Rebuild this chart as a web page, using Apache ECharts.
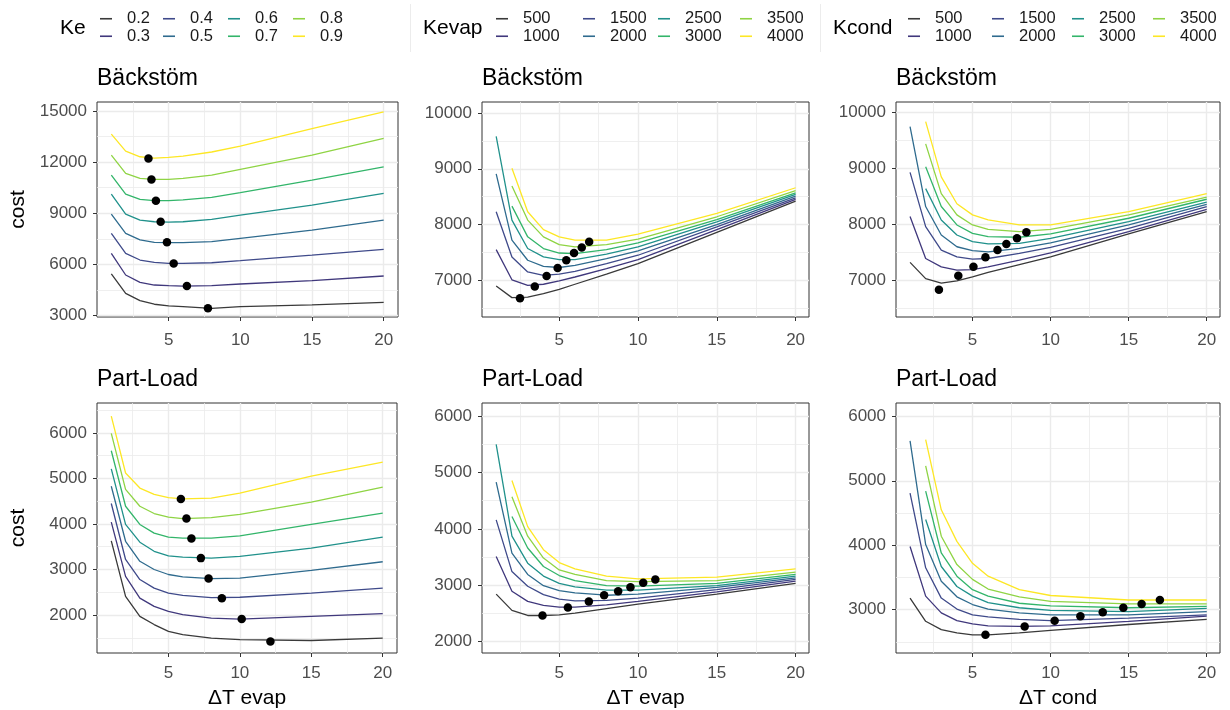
<!DOCTYPE html>
<html><head><meta charset="utf-8">
<script src="https://cdn.jsdelivr.net/npm/echarts@6/dist/echarts.min.js"></script>
<style>html,body{margin:0;padding:0;background:#fff}#c{width:1230px;height:710px}</style>
</head><body><div id="c"></div>
<script>
// ---------- data ----------
const xs = [1, 2, 3, 4, 5, 6, 8, 10, 15, 20];
const keLevels = ['0.2', '0.3', '0.4', '0.5', '0.6', '0.7', '0.8', '0.9'];
const kLevels = ['500', '1000', '1500', '2000', '2500', '3000', '3500', '4000'];
const xTicks = [5, 10, 15, 20];
const xMinor = [2.5, 7.5, 12.5, 17.5];

// Bäckstöm, ΔT evap, by Ke
const bsEvapKe = [
  [5430, 4290, 3860, 3650, 3550, 3510, 3410, 3510, 3610, 3760],
  [6640, 5370, 4940, 4780, 4740, 4720, 4740, 4840, 5040, 5310],
  [7820, 6640, 6250, 6110, 6050, 6050, 6090, 6210, 6540, 6880],
  [8950, 7820, 7430, 7290, 7270, 7270, 7330, 7520, 8010, 8600],
  [10130, 8950, 8600, 8500, 8480, 8500, 8640, 8890, 9480, 10170],
  [11240, 10130, 9810, 9740, 9740, 9780, 9930, 10210, 10950, 11730],
  [12420, 11340, 11050, 10990, 10990, 11050, 11240, 11580, 12420, 13400],
  [13650, 12650, 12320, 12240, 12280, 12360, 12600, 12950, 13980, 14960]
];
const bsEvapKeMinX = [7.74, 6.27, 5.35, 4.88, 4.44, 4.11, 3.8, 3.59];
const bsEvapKeMinY = [3410, 4720, 6050, 7290, 8500, 9740, 10990, 12220];

// Bäckstöm, ΔT evap, by Kevap
const bsEvapKevap = [
  [6900, 6690, 6700, 6760, 6840, 6930, 7110, 7300, 7860, 8420],
  [7550, 7010, 6910, 6930, 6990, 7060, 7210, 7370, 7910, 8450],
  [8230, 7420, 7150, 7090, 7110, 7160, 7300, 7450, 7960, 8480],
  [8910, 7720, 7360, 7250, 7230, 7270, 7390, 7530, 8000, 8510],
  [9580, 8080, 7570, 7420, 7370, 7370, 7470, 7600, 8050, 8540],
  [null, 8330, 7780, 7570, 7490, 7480, 7550, 7670, 8090, 8570],
  [null, 8690, 8080, 7780, 7640, 7600, 7640, 7740, 8140, 8610],
  [null, 9010, 8230, 7910, 7780, 7720, 7720, 7830, 8200, 8660]
];
const bsEvapKevapMinX = [2.51, 3.45, 4.2, 4.9, 5.45, 5.94, 6.43, 6.9];
const bsEvapKevapMinY = [6680, 6890, 7080, 7220, 7360, 7490, 7590, 7690];

// Bäckstöm, ΔT cond, by Kcond
const bsCondKcond = [
  [7320, 7030, 6950, 6990, 7060, 7140, 7280, 7420, 7830, 8230],
  [8140, 7390, 7240, 7180, 7190, 7240, 7360, 7490, 7870, 8270],
  [8930, 7960, 7540, 7420, 7380, 7390, 7480, 7590, 7930, 8320],
  [9750, 8320, 7810, 7600, 7530, 7510, 7570, 7670, 7990, 8360],
  [null, 8640, 8080, 7810, 7690, 7650, 7660, 7750, 8050, 8400],
  [null, 9030, 8320, 7990, 7840, 7780, 7770, 7830, 8110, 8450],
  [null, 9440, 8550, 8170, 7990, 7910, 7870, 7910, 8170, 8490],
  [null, 9840, 8850, 8370, 8170, 8080, 7990, 7990, 8230, 8550]
];
const bsCondKcondMinX = [2.85, 4.09, 5.06, 5.83, 6.6, 7.17, 7.85, 8.45];
const bsCondKcondMinY = [6830, 7080, 7240, 7410, 7540, 7650, 7750, 7860];

// Part-Load, ΔT evap, by Ke
const plEvapKe = [
  [3630, 2410, 1970, 1790, 1640, 1570, 1490, 1460, 1440, 1490],
  [4040, 2850, 2370, 2190, 2080, 2010, 1930, 1910, 1970, 2030],
  [4450, 3220, 2780, 2590, 2480, 2430, 2380, 2390, 2480, 2590],
  [4830, 3620, 3180, 3000, 2890, 2840, 2800, 2810, 2980, 3170],
  [5210, 3990, 3600, 3400, 3300, 3270, 3250, 3290, 3470, 3710],
  [5610, 4390, 3990, 3800, 3710, 3690, 3690, 3740, 3990, 4240],
  [5990, 4760, 4390, 4230, 4150, 4120, 4140, 4210, 4480, 4810],
  [6370, 5120, 4790, 4650, 4580, 4550, 4570, 4680, 5050, 5360]
];
const plEvapKeMinX = [12.14, 10.13, 8.74, 7.81, 7.27, 6.61, 6.26, 5.87];
const plEvapKeMinY = [1420, 1910, 2370, 2800, 3250, 3680, 4120, 4550];

// Part-Load, ΔT evap, by Kevap
const plEvapKevap = [
  [2840, 2550, 2460, 2460, 2470, 2500, 2580, 2660, 2840, 3030],
  [3510, 2890, 2710, 2640, 2610, 2610, 2650, 2710, 2880, 3070],
  [4160, 3240, 2980, 2830, 2750, 2720, 2730, 2770, 2920, 3100],
  [4830, 3570, 3190, 2990, 2900, 2860, 2820, 2840, 2960, 3130],
  [5500, 3870, 3390, 3160, 3030, 2970, 2910, 2910, 2990, 3160],
  [null, 4220, 3660, 3330, 3170, 3080, 2990, 2980, 3030, 3190],
  [null, 4570, 3870, 3480, 3270, 3190, 3080, 3060, 3080, 3230],
  [null, 4860, 4040, 3630, 3400, 3290, 3160, 3110, 3140, 3290]
];
const plEvapKevapMinX = [3.94, 5.55, 6.88, 7.85, 8.74, 9.52, 10.33, 11.1];
const plEvapKevapMinY = [2460, 2600, 2710, 2820, 2890, 2960, 3040, 3100];

// Part-Load, ΔT cond, by Kcond
const plCondKcond = [
  [3180, 2820, 2690, 2640, 2610, 2610, 2640, 2680, 2770, 2850],
  [3980, 3210, 2950, 2830, 2780, 2750, 2740, 2750, 2820, 2900],
  [4810, 3650, 3180, 3010, 2920, 2890, 2850, 2830, 2870, 2920],
  [5620, 4010, 3440, 3200, 3080, 3010, 2950, 2920, 2920, 2970],
  [null, 4400, 3670, 3360, 3210, 3110, 3030, 2990, 2970, 3020],
  [null, 4840, 3880, 3520, 3310, 3210, 3100, 3060, 3030, 3050],
  [null, 5230, 4140, 3700, 3470, 3320, 3200, 3130, 3090, 3090],
  [null, 5640, 4550, 4060, 3720, 3520, 3310, 3220, 3150, 3150]
];
const plCondKcondMinX = [5.83, 8.34, 10.26, 11.91, 13.34, 14.66, 15.83, 17.0];
const plCondKcondMinY = [2610, 2740, 2830, 2900, 2960, 3030, 3090, 3150];

// y tick labels / minor grid values
const yTicksBsKe = [3000, 6000, 9000, 12000, 15000];
const yMinorBsKe = [4500, 7500, 10500, 13500];
const yTicksBs = [7000, 8000, 9000, 10000];
const yMinorBs = [6500, 7500, 8500, 9500];
const yTicksPlKe = [2000, 3000, 4000, 5000, 6000];
const yMinorPlKe = [1500, 2500, 3500, 4500, 5500, 6500];
const yTicksPlEvap = [2000, 3000, 4000, 5000, 6000];
const yMinorPlEvap = [2500, 3500, 4500, 5500];
const yTicksPlCond = [3000, 4000, 5000, 6000];
const yMinorPlCond = [2500, 3500, 4500, 5500];

// ---------- styling / layout ----------
const palette = ['#3a3a3a', '#40387c', '#3f4a8a', '#2f6b8e', '#20918b', '#33b56a', '#8fd444', '#fde725'];
const FONT = '"Liberation Sans", Arial, sans-serif';

const panels = [
  {title: 'Bäckstöm', levels: keLevels, lines: bsEvapKe, mx: bsEvapKeMinX, my: bsEvapKeMinY, yt: yTicksBsKe, ym: yMinorBsKe,
   box: [97, 102, 301, 215], xr: [0, 21], yr: [2900, 15540], yName: 'cost', xName: '', lm: 15},
  {title: 'Bäckstöm', levels: kLevels, lines: bsEvapKevap, mx: bsEvapKevapMinX, my: bsEvapKevapMinY, yt: yTicksBs, ym: yMinorBs,
   box: [482, 102, 327, 215], xr: [0.1, 20.85], yr: [6343, 10197], yName: '', xName: '', lm: 15},
  {title: 'Bäckstöm', levels: kLevels, lines: bsCondKcond, mx: bsCondKcondMinX, my: bsCondKcondMinY, yt: yTicksBs, ym: yMinorBs,
   box: [896, 102, 324, 215], xr: [0.1, 20.85], yr: [6343, 10190], yName: '', xName: '', lm: 15},
  {title: 'Part-Load', levels: keLevels, lines: plEvapKe, mx: plEvapKeMinX, my: plEvapKeMinY, yt: yTicksPlKe, ym: yMinorPlKe,
   box: [97, 403, 300, 250], xr: [0, 21], yr: [1165, 6659], yName: 'cost', xName: 'ΔT evap', lm: 12},
  {title: 'Part-Load', levels: kLevels, lines: plEvapKevap, mx: plEvapKevapMinX, my: plEvapKevapMinY, yt: yTicksPlEvap, ym: yMinorPlEvap,
   box: [482, 403, 327, 250], xr: [0.1, 20.85], yr: [1793, 6237], yName: '', xName: 'ΔT evap', lm: 12},
  {title: 'Part-Load', levels: kLevels, lines: plCondKcond, mx: plCondKcondMinX, my: plCondKcondMinY, yt: yTicksPlCond, ym: yMinorPlCond,
   box: [896, 403, 324, 250], xr: [0.1, 20.85], yr: [2328, 6207], yName: '', xName: 'ΔT cond', lm: 12}
];

const grid = [], xAxis = [], yAxis = [], series = [], title = [];
panels.forEach((p, pi) => {
  grid.push({left: p.box[0], top: p.box[1], width: p.box[2], height: p.box[3], show: true,
    borderColor: '#333', borderWidth: 1, backgroundColor: '#fff', containLabel: false});
  title.push({text: p.title, left: p.box[0], top: p.box[1] - 35, padding: 0,
    textStyle: {fontSize: 23, fontWeight: 'normal', color: '#000', fontFamily: FONT}});
  xAxis.push({gridIndex: pi, type: 'value', min: p.xr[0], max: p.xr[1],
    axisLine: {show: false}, splitLine: {show: false},
    axisTick: {show: true, customValues: xTicks, length: 4, lineStyle: {color: '#333'}},
    axisLabel: {customValues: xTicks, color: '#4d4d4d', fontSize: 17, fontFamily: FONT, margin: p.lm},
    name: p.xName, nameLocation: 'middle', nameGap: 35,
    nameTextStyle: {fontSize: 21, color: '#000', fontFamily: FONT}});
  yAxis.push({gridIndex: pi, type: 'value', min: p.yr[0], max: p.yr[1],
    axisLine: {show: false}, splitLine: {show: false},
    axisTick: {show: true, customValues: p.yt, length: 4, lineStyle: {color: '#333'}},
    axisLabel: {customValues: p.yt, color: '#4d4d4d', fontSize: 17, fontFamily: FONT, margin: 10,
      formatter: v => String(v)},
    name: p.yName, nameLocation: 'middle', nameGap: 68, nameRotate: 90,
    nameTextStyle: {fontSize: 21, color: '#000', fontFamily: FONT}});
  // background grid lines
  const ml = [];
  xMinor.forEach(v => ml.push({xAxis: v, lineStyle: {width: 0.8}}));
  xTicks.forEach(v => ml.push({xAxis: v, lineStyle: {width: 1.4}}));
  p.ym.forEach(v => ml.push({yAxis: v, lineStyle: {width: 0.8}}));
  p.yt.forEach(v => ml.push({yAxis: v, lineStyle: {width: 1.4}}));
  series.push({type: 'line', xAxisIndex: pi, yAxisIndex: pi, data: [], z: 1, silent: true,
    markLine: {silent: true, z: 1, symbol: ['none', 'none'], label: {show: false}, animation: false,
      lineStyle: {color: '#ebebeb', type: 'solid'}, emphasis: {disabled: true}, data: ml}});
  p.lines.forEach((vals, i) => {
    const data = [];
    xs.forEach((x, k) => { if (vals[k] != null) data.push([x, vals[k]]); });
    series.push({type: 'line', name: p.levels[i], xAxisIndex: pi, yAxisIndex: pi, data,
      showSymbol: false, symbol: 'none', z: 3, silent: true,
      lineStyle: {width: 1.3, color: palette[i]}, itemStyle: {color: palette[i]}});
  });
  series.push({type: 'scatter', xAxisIndex: pi, yAxisIndex: pi, z: 6, silent: true,
    data: p.mx.map((x, k) => [x, p.my[k]]), symbolSize: 8.5, itemStyle: {color: '#000', opacity: 1}});
});

// legends: 3 groups x 4 columns of 2 rows
const legendGroups = [
  {levels: keLevels, keys: [100, 163, 228, 293]},
  {levels: kLevels, keys: [496, 583, 658, 740]},
  {levels: kLevels, keys: [908, 992, 1072, 1153]}
];
const legend = [];
legendGroups.forEach(g => {
  g.keys.forEach((kx, c) => {
    legend.push({data: [g.levels[2 * c], g.levels[2 * c + 1]], orient: 'vertical', left: kx, top: 10,
      padding: 0, itemGap: 0, itemWidth: 12, itemHeight: 1.6, icon: 'rect', selectedMode: false,
      textStyle: {fontSize: 16.5, lineHeight: 17.5, color: '#1a1a1a', fontFamily: FONT, padding: [0, 0, 0, 10]}});
  });
});

const graphic = [
  {type: 'text', left: 60, top: 18, style: {text: 'Ke', fontSize: 21, fill: '#000', fontFamily: FONT}},
  {type: 'text', left: 423, top: 18, style: {text: 'Kevap', fontSize: 21, fill: '#000', fontFamily: FONT}},
  {type: 'text', left: 833, top: 18, style: {text: 'Kcond', fontSize: 21, fill: '#000', fontFamily: FONT}},
  {type: 'line', shape: {x1: 410.5, y1: 4, x2: 410.5, y2: 52}, style: {stroke: '#ececec', lineWidth: 1}},
  {type: 'line', shape: {x1: 820.5, y1: 4, x2: 820.5, y2: 52}, style: {stroke: '#ececec', lineWidth: 1}}
];

const chart = echarts.init(document.getElementById('c'), null, {renderer: 'canvas'});
chart.setOption({backgroundColor: '#fff', animation: false, textStyle: {fontFamily: FONT},
  grid, xAxis, yAxis, series, title, legend, graphic});
</script></body></html>
